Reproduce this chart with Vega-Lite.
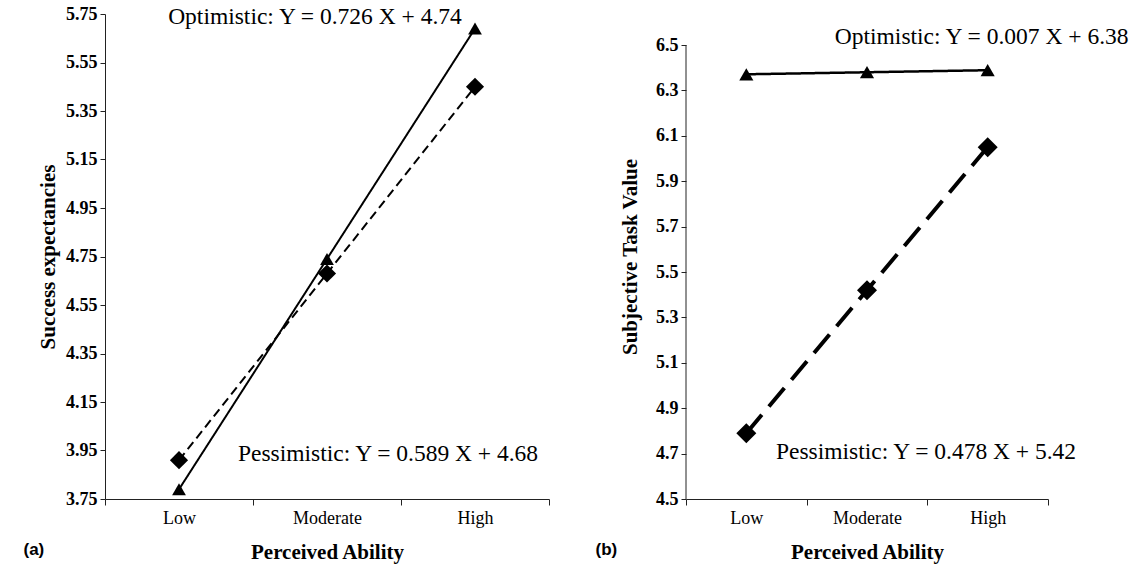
{
  "$schema": "https://vega.github.io/schema/vega-lite/v6.json",
  "background": "white",
  "padding": {"left": 23, "top": 4, "right": 5, "bottom": 5},
  "spacing": 45,
  "resolve": {"scale": {"strokeDash": "independent", "strokeWidth": "independent", "size": "independent", "shape": "independent"}},
  "datasets": {
    "a": [
      {"group": "Optimistic", "ability": "Low", "value": 3.79},
      {"group": "Optimistic", "ability": "Moderate", "value": 4.74},
      {"group": "Optimistic", "ability": "High", "value": 5.69},
      {"group": "Pessimistic", "ability": "Low", "value": 3.91},
      {"group": "Pessimistic", "ability": "Moderate", "value": 4.68},
      {"group": "Pessimistic", "ability": "High", "value": 5.45}
    ],
    "b": [
      {"group": "Optimistic", "ability": "Low", "value": 6.371},
      {"group": "Optimistic", "ability": "Moderate", "value": 6.38},
      {"group": "Optimistic", "ability": "High", "value": 6.389},
      {"group": "Pessimistic", "ability": "Low", "value": 4.79},
      {"group": "Pessimistic", "ability": "Moderate", "value": 5.42},
      {"group": "Pessimistic", "ability": "High", "value": 6.05}
    ]
  },
  "config": {
    "view": {"stroke": null},
    "axis": {
      "grid": false,
      "domainColor": "#222",
      "tickColor": "#222",
      "labelColor": "black",
      "titleColor": "black",
      "labelFont": "Liberation Serif",
      "titleFont": "Liberation Serif",
      "titleFontWeight": "bold",
      "titleFontSize": 21
    }
  },
  "hconcat": [
    {
      "width": 444,
      "height": 485,
      "data": {"name": "a"},
      "title": {"text": "(a)", "orient": "bottom", "anchor": "start", "frame": "bounds", "font": "Liberation Sans", "fontWeight": "bold", "fontSize": 17, "color": "black", "dx": -14, "offset": -20},
      "encoding": {
        "x": {"field": "ability", "type": "nominal", "sort": ["Low", "Moderate", "High"],
          "scale": {"type": "band", "paddingInner": 0, "paddingOuter": 0},
          "axis": {"title": "Perceived Ability", "labelAngle": 0, "tickBand": "extent", "tickSize": 6, "labelFontSize": 18, "labelPadding": 4, "titlePadding": 14}},
        "y": {"field": "value", "type": "quantitative",
          "scale": {"domain": [3.75, 5.75], "nice": false, "zero": false},
          "axis": {"title": "Success expectancies", "values": [3.75, 3.95, 4.15, 4.35, 4.55, 4.75, 4.95, 5.15, 5.35, 5.55, 5.75], "format": ".2f", "labelFontWeight": "bold", "labelFontSize": 18, "tickSize": 5, "labelPadding": 3, "titlePadding": 7}}
      },
      "layer": [
        {
          "mark": {"type": "line", "color": "black"},
          "encoding": {
            "strokeDash": {"field": "group", "type": "nominal", "scale": {"domain": ["Optimistic", "Pessimistic"], "range": [[1, 0], [9, 5]]}, "legend": null},
            "strokeWidth": {"field": "group", "type": "nominal", "scale": {"domain": ["Optimistic", "Pessimistic"], "range": [2, 2]}, "legend": null}
          }
        },
        {
          "mark": {"type": "point", "filled": true, "color": "black", "opacity": 1},
          "encoding": {
            "shape": {"field": "group", "type": "nominal", "scale": {"domain": ["Optimistic", "Pessimistic"], "range": ["triangle-up", "diamond"]}, "legend": null},
            "size": {"field": "group", "type": "nominal", "scale": {"domain": ["Optimistic", "Pessimistic"], "range": [190, 330]}, "legend": null}
          }
        },
        {
          "transform": [{"filter": "datum.group === 'Optimistic' && datum.ability === 'High'"}],
          "mark": {"type": "text", "font": "Liberation Serif", "fontSize": 23.5, "fontWeight": "normal", "align": "center", "baseline": "middle", "fill": "black", "dx": -12},
          "encoding": {"x": {"datum": "Moderate"}, "y": {"datum": 5.738}, "text": {"value": "Optimistic:  Y = 0.726 X + 4.74"}}
        },
        {
          "transform": [{"filter": "datum.group === 'Pessimistic' && datum.ability === 'Low'"}],
          "mark": {"type": "text", "font": "Liberation Serif", "fontSize": 23.5, "fontWeight": "normal", "align": "center", "baseline": "middle", "fill": "black", "dx": 61},
          "encoding": {"x": {"datum": "Moderate"}, "y": {"datum": 3.936}, "text": {"value": "Pessimistic:  Y = 0.589 X + 4.68"}}
        }
      ]
    },
    {
      "width": 362,
      "height": 485,
      "data": {"name": "b"},
      "title": {"text": "(b)", "orient": "bottom", "anchor": "start", "frame": "bounds", "font": "Liberation Sans", "fontWeight": "bold", "fontSize": 17, "color": "black", "dx": -24, "offset": -20},
      "encoding": {
        "x": {"field": "ability", "type": "nominal", "sort": ["Low", "Moderate", "High"],
          "scale": {"type": "band", "paddingInner": 0, "paddingOuter": 0},
          "axis": {"title": "Perceived Ability", "labelAngle": 0, "tickBand": "extent", "tickSize": 6, "labelFontSize": 18, "labelPadding": 4, "titlePadding": 14}},
        "y": {"field": "value", "type": "quantitative",
          "scale": {"domain": [4.5, 6.6366], "nice": false, "zero": false},
          "axis": {"title": "Subjective Task Value", "values": [4.5, 4.7, 4.9, 5.1, 5.3, 5.5, 5.7, 5.9, 6.1, 6.3, 6.5], "format": ".1f", "labelFontWeight": "bold", "labelFontSize": 18, "tickSize": 5, "labelPadding": 3, "titlePadding": 15, "domain": false}}
      },
      "layer": [
        {
          "transform": [{"filter": "datum.group === 'Optimistic' && datum.ability === 'Low'"}],
          "mark": {"type": "rule", "color": "#222", "strokeWidth": 1},
          "encoding": {"x": {"datum": "Low", "bandPosition": 0}, "y": {"datum": 4.5}, "y2": {"datum": 6.5}}
        },
        {
          "mark": {"type": "line", "color": "black"},
          "encoding": {
            "strokeDash": {"field": "group", "type": "nominal", "scale": {"domain": ["Optimistic", "Pessimistic"], "range": [[1, 0], [24, 11]]}, "legend": null},
            "strokeWidth": {"field": "group", "type": "nominal", "scale": {"domain": ["Optimistic", "Pessimistic"], "range": [2.5, 4]}, "legend": null}
          }
        },
        {
          "mark": {"type": "point", "filled": true, "color": "black", "opacity": 1},
          "encoding": {
            "shape": {"field": "group", "type": "nominal", "scale": {"domain": ["Optimistic", "Pessimistic"], "range": ["triangle-up", "diamond"]}, "legend": null},
            "size": {"field": "group", "type": "nominal", "scale": {"domain": ["Optimistic", "Pessimistic"], "range": [200, 400]}, "legend": null}
          }
        },
        {
          "transform": [{"filter": "datum.group === 'Optimistic' && datum.ability === 'High'"}],
          "mark": {"type": "text", "font": "Liberation Serif", "fontSize": 23.5, "fontWeight": "normal", "align": "center", "baseline": "middle", "fill": "black", "dx": -6},
          "encoding": {"x": {"datum": "High"}, "y": {"datum": 6.535}, "text": {"value": "Optimistic:  Y = 0.007 X + 6.38"}}
        },
        {
          "transform": [{"filter": "datum.group === 'Pessimistic' && datum.ability === 'Low'"}],
          "mark": {"type": "text", "font": "Liberation Serif", "fontSize": 23.5, "fontWeight": "normal", "align": "center", "baseline": "middle", "fill": "black", "dx": 59},
          "encoding": {"x": {"datum": "Moderate"}, "y": {"datum": 4.707}, "text": {"value": "Pessimistic:  Y = 0.478 X + 5.42"}}
        }
      ]
    }
  ]
}
